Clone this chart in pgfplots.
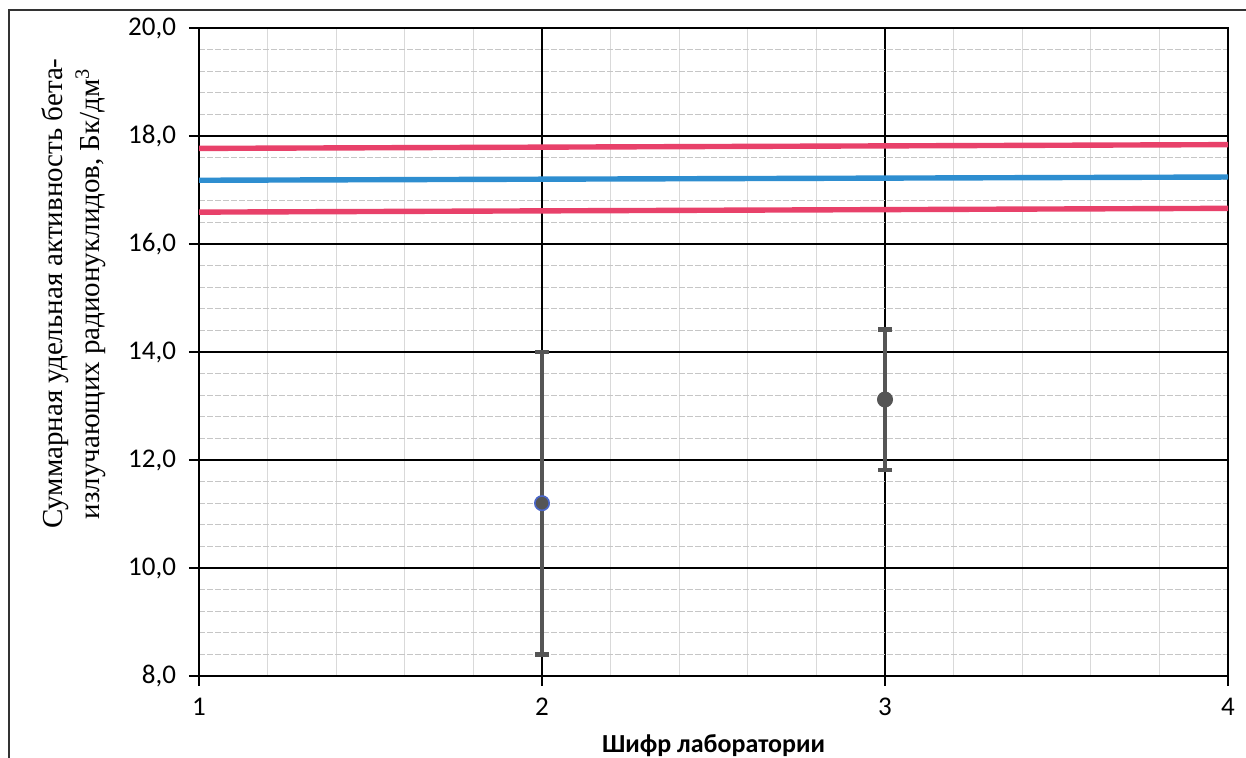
\documentclass[border=0pt]{standalone}
\usepackage{fontspec}
\usepackage{pgfplots}
\pgfplotsset{compat=1.18}
\setmainfont{Liberation Serif}
\newfontfamily\calibri{Carlito}

\definecolor{limred}{HTML}{E8416A}
\definecolor{limblue}{HTML}{2E8ED0}
\definecolor{ebgray}{HTML}{555555}
\definecolor{mkblue}{HTML}{4A66C8}

\begin{document}
\begin{tikzpicture}
\begin{axis}[
  at={(0,0)}, anchor=south west,
  scale only axis, width=514.5pt, height=324pt,
  xmin=1, xmax=4, ymin=8, ymax=20,
  xtick={1,2,3,4}, ytick={8,10,...,20},
  minor x tick num=4, minor y tick num=4,
  grid=both,
  major grid style={black, line width=0.7pt},
  minor x grid style={gray!30, line width=0.5pt},
  minor y grid style={gray!45, line width=0.45pt, dash pattern=on 3pt off 1pt},
  axis line style={black, line width=1pt},
  tick align=outside, major tick length=5pt, minor tick length=0pt,
  tick style={black, line width=0.8pt},
  xtick pos=bottom, ytick pos=left,
  /pgf/number format/assume math mode=true,
  tick label style={font=\calibri\fontsize{13.5}{16}\selectfont},
  yticklabel={\pgfmathprintnumber[fixed,fixed zerofill,precision=1,use comma]{\tick}},
  xticklabel style={yshift=-2.5pt},
  yticklabel style={xshift=-3pt},
  xlabel={Шифр лаборатории},
  xlabel style={font=\calibri\bfseries\fontsize{13}{15}\selectfont,
    at={(axis description cs:0.5,-0.107)}, anchor=center},
  ylabel={Суммарная удельная активность бета-\\излучающих радионуклидов, Бк/дм\textsuperscript{3}},
  ylabel style={font=\fontsize{14.5}{18.5}\selectfont,
    at={(axis description cs:-0.122,0.59)}, anchor=center, align=center},
]
% limits and assigned value
\addplot[limred, line width=2.7pt] coordinates {(1,17.77) (4,17.84)};
\addplot[limblue, line width=2.7pt] coordinates {(1,17.18) (4,17.24)};
\addplot[limred, line width=2.7pt] coordinates {(1,16.59) (4,16.66)};
% laboratory results
\addplot[ebgray, only marks, mark=*, mark size=3.6pt,
  mark options={fill=ebgray, draw=mkblue, line width=0.8pt},
  error bars/.cd, y dir=both, y explicit,
  error bar style={ebgray, line width=2.2pt},
  error mark options={rotate=90, mark size=3.5pt, line width=2.2pt, ebgray}]
  coordinates {(2,11.2) +- (0,2.8)};
\addplot[ebgray, only marks, mark=*, mark size=3.8pt,
  mark options={fill=ebgray, draw=ebgray},
  error bars/.cd, y dir=both, y explicit,
  error bar style={ebgray, line width=2.2pt},
  error mark options={rotate=90, mark size=3.5pt, line width=2.2pt, ebgray}]
  coordinates {(3,13.12) +- (0,1.3)};
\end{axis}
\draw[black!80, line width=0.8pt] (-95pt,-60pt) -- (-95pt,333pt) -- (560pt,333pt);
\pgfresetboundingbox
\path[use as bounding box] (-99.5pt,-41pt) rectangle (523.5pt,338pt);
\end{tikzpicture}
\end{document}
